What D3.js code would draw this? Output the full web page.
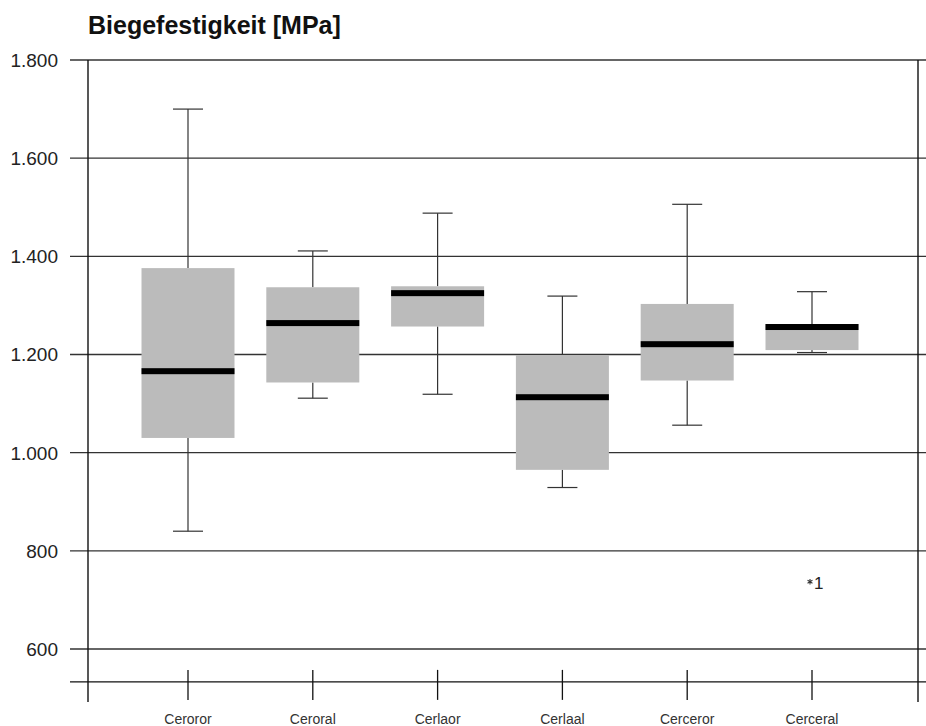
<!DOCTYPE html>
<html>
<head>
<meta charset="utf-8">
<script src="https://cdn.jsdelivr.net/npm/d3@7"></script>
<style>
  html, body { margin: 0; padding: 0; background: #fff; }
  svg { display: block; font-family: "Liberation Sans", Arial, Helvetica, sans-serif; }
</style>
</head>
<body>
<svg id="chart" width="926" height="726"></svg>
<script>
// ---- data ----
const categories = ["Ceroror", "Ceroral", "Cerlaor", "Cerlaal", "Cerceror", "Cerceral"];
const whiskerLow  = [840, 1111, 1119, 929, 1056, 1204];
const q1          = [1030, 1143, 1257, 965, 1147, 1209];
const medians     = [1166, 1264, 1325, 1113, 1221, 1256];
const q3          = [1376, 1337, 1339, 1199, 1303, 1262];
const whiskerHigh = [1700, 1411, 1488, 1319, 1506, 1328];
const outlierCategory = ["Cerceral"];
const outlierValues   = [735];
const outlierLabels   = ["1"];
const yTicks = [600, 800, 1000, 1200, 1400, 1600, 1800];
const title = "Biegefestigkeit [MPa]";

// ---- layout ----
const svg = d3.select("#chart");
const yBottomValue = 533;
const y = d3.scaleLinear().domain([600, 1800]).range([649, 60]);
const x = d3.scalePoint().domain(categories).range([188, 812]);
const leftX = 88, rightX = 918, gridStart = 70, gridEnd = 926;
const axisY = y(yBottomValue);
const boxW = 93, capW = 30, medH = 6;
const lineColor = "#333";

const de = d3.formatLocale({decimal: ",", thousands: ".", grouping: [3], currency: ["", "€"]});
const fmt = de.format(",d");

// title
svg.append("text")
  .attr("x", 88).attr("y", 34)
  .attr("font-size", 25).attr("font-weight", "bold")
  .attr("fill", "#111")
  .text(title);

// grid lines
svg.append("g").selectAll("line").data(yTicks).join("line")
  .attr("x1", gridStart).attr("x2", gridEnd)
  .attr("y1", d => y(d)).attr("y2", d => y(d))
  .attr("stroke", lineColor).attr("stroke-width", 1.3);

// y labels
svg.append("g").selectAll("text").data(yTicks).join("text")
  .attr("x", 58).attr("y", d => y(d))
  .attr("dy", "0.36em")
  .attr("text-anchor", "end")
  .attr("font-size", 19)
  .attr("fill", "#222")
  .text(d => fmt(d));

// bottom axis line
svg.append("line")
  .attr("x1", gridStart).attr("x2", gridEnd)
  .attr("y1", axisY).attr("y2", axisY)
  .attr("stroke", "#111").attr("stroke-width", 1.3);

// vertical frame lines
[leftX, rightX].forEach(xx => {
  svg.append("line")
    .attr("x1", xx).attr("x2", xx)
    .attr("y1", y(1800)).attr("y2", axisY + 20)
    .attr("stroke", "#111").attr("stroke-width", 1.4);
});

// category ticks + labels
const cat = svg.append("g");
cat.selectAll("line").data(categories).join("line")
  .attr("x1", d => x(d)).attr("x2", d => x(d))
  .attr("y1", axisY - 12).attr("y2", axisY + 18)
  .attr("stroke", "#111").attr("stroke-width", 1.3);
cat.selectAll("text").data(categories).join("text")
  .attr("x", d => x(d)).attr("y", 724)
  .attr("text-anchor", "middle")
  .attr("font-size", 14)
  .attr("fill", "#333")
  .text(d => d);

// boxes
const boxes = categories.map((c, i) => ({
  c, lo: whiskerLow[i], q1: q1[i], med: medians[i], q3: q3[i], hi: whiskerHigh[i]
}));
const g = svg.append("g");
const bx = g.selectAll("g.box").data(boxes).join("g").attr("class", "box");

// whiskers
bx.append("line")
  .attr("x1", d => x(d.c)).attr("x2", d => x(d.c))
  .attr("y1", d => y(d.hi)).attr("y2", d => y(d.q3))
  .attr("stroke", lineColor).attr("stroke-width", 1.2);
bx.append("line")
  .attr("x1", d => x(d.c)).attr("x2", d => x(d.c))
  .attr("y1", d => y(d.q1)).attr("y2", d => y(d.lo))
  .attr("stroke", lineColor).attr("stroke-width", 1.2);
bx.append("line")
  .attr("x1", d => x(d.c) - capW / 2).attr("x2", d => x(d.c) + capW / 2)
  .attr("y1", d => y(d.hi)).attr("y2", d => y(d.hi))
  .attr("stroke", lineColor).attr("stroke-width", 1.2);
bx.append("line")
  .attr("x1", d => x(d.c) - capW / 2).attr("x2", d => x(d.c) + capW / 2)
  .attr("y1", d => y(d.lo)).attr("y2", d => y(d.lo))
  .attr("stroke", lineColor).attr("stroke-width", 1.2);

// box body
bx.append("rect")
  .attr("x", d => x(d.c) - boxW / 2)
  .attr("width", boxW)
  .attr("y", d => y(d.q3))
  .attr("height", d => y(d.q1) - y(d.q3))
  .attr("fill", "#bbbbbb");

// median
bx.append("rect")
  .attr("x", d => x(d.c) - boxW / 2)
  .attr("width", boxW)
  .attr("y", d => y(d.med) - medH / 2)
  .attr("height", medH)
  .attr("fill", "#000");

// outliers
const outliers = outlierCategory.map((c, i) => ({c, v: outlierValues[i], label: outlierLabels[i]}));
const og = svg.append("g").selectAll("g").data(outliers).join("g");
og.append("path")
  .attr("transform", d => `translate(${x(d.c) - 2},${y(d.v) - 1})`)
  .attr("d", d3.symbol(d3.symbolAsterisk, 22))
  .attr("stroke", "#333").attr("stroke-width", 1.1).attr("fill", "none");
og.append("text")
  .attr("x", d => x(d.c) + 2).attr("y", d => y(d.v))
  .attr("dy", "0.36em")
  .attr("font-size", 17)
  .attr("fill", "#222")
  .text(d => d.label);
</script>
</body>
</html>
